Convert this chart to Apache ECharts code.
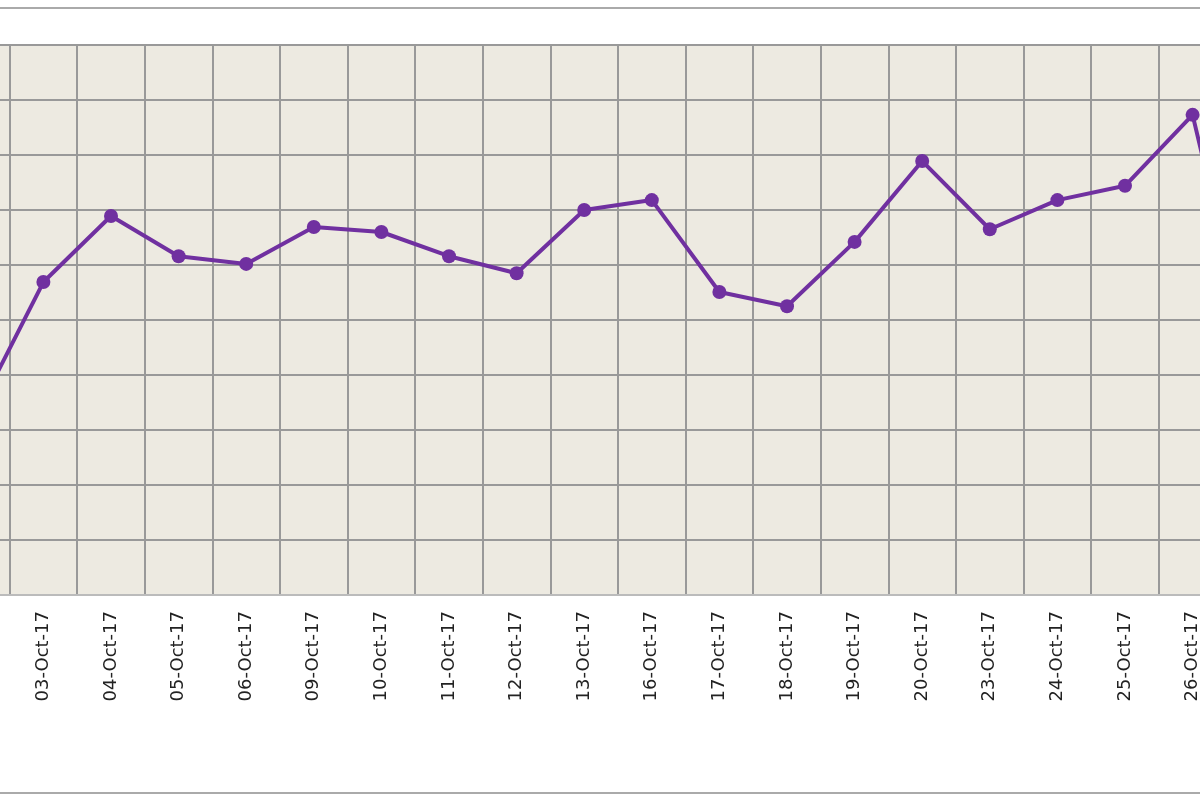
<!DOCTYPE html><html><head><meta charset="utf-8"><script src="https://cdn.jsdelivr.net/npm/echarts@6/dist/echarts.min.js"></script>
<style>html,body{margin:0;background:#fff;overflow:hidden;width:1200px;height:800px;position:relative}#c{position:absolute;left:-57.6px;top:0;width:1352px;height:800px}</style></head><body><div id="c"></div><script>
const categories=['02-Oct-17','03-Oct-17','04-Oct-17','05-Oct-17','06-Oct-17','09-Oct-17','10-Oct-17','11-Oct-17','12-Oct-17','13-Oct-17','16-Oct-17','17-Oct-17','18-Oct-17','19-Oct-17','20-Oct-17','23-Oct-17','24-Oct-17','25-Oct-17','26-Oct-17','27-Oct-17'];
const values=[32.7,56.9,68.9,61.6,60.2,66.9,66,61.6,58.5,70,71.8,55.1,52.5,64.2,78.9,66.5,71.8,74.4,87.3,35.5];
const c=echarts.init(document.getElementById('c'));
c.setOption({animation:false,
grid:{left:0,right:0,top:45,bottom:205,show:true,backgroundColor:'#EDEAE1',borderWidth:0},
graphic:[{type:'line',shape:{x1:0,y1:8,x2:1352,y2:8},style:{stroke:'#aaa',lineWidth:2}},
{type:'line',shape:{x1:0,y1:793,x2:1352,y2:793},style:{stroke:'#aaa',lineWidth:2}}],
xAxis:{type:'category',data:categories,boundaryGap:true,axisLine:{lineStyle:{color:'#bbb',width:2}},axisTick:{show:false},
splitLine:{show:true,interval:0,lineStyle:{color:'#999',width:2}},
axisLabel:{rotate:90,interval:0,fontSize:18,color:'#222',margin:16,fontFamily:'DejaVu Sans'}},
yAxis:{type:'value',min:0,max:100,interval:10,axisLabel:{show:false},axisLine:{show:false},axisTick:{show:false},
splitLine:{lineStyle:{color:'#999',width:2}}},
series:[{type:'line',data:values,symbol:'circle',symbolSize:14,lineStyle:{color:'#7030A0',width:4},itemStyle:{color:'#7030A0'}}]});
</script></body></html>
